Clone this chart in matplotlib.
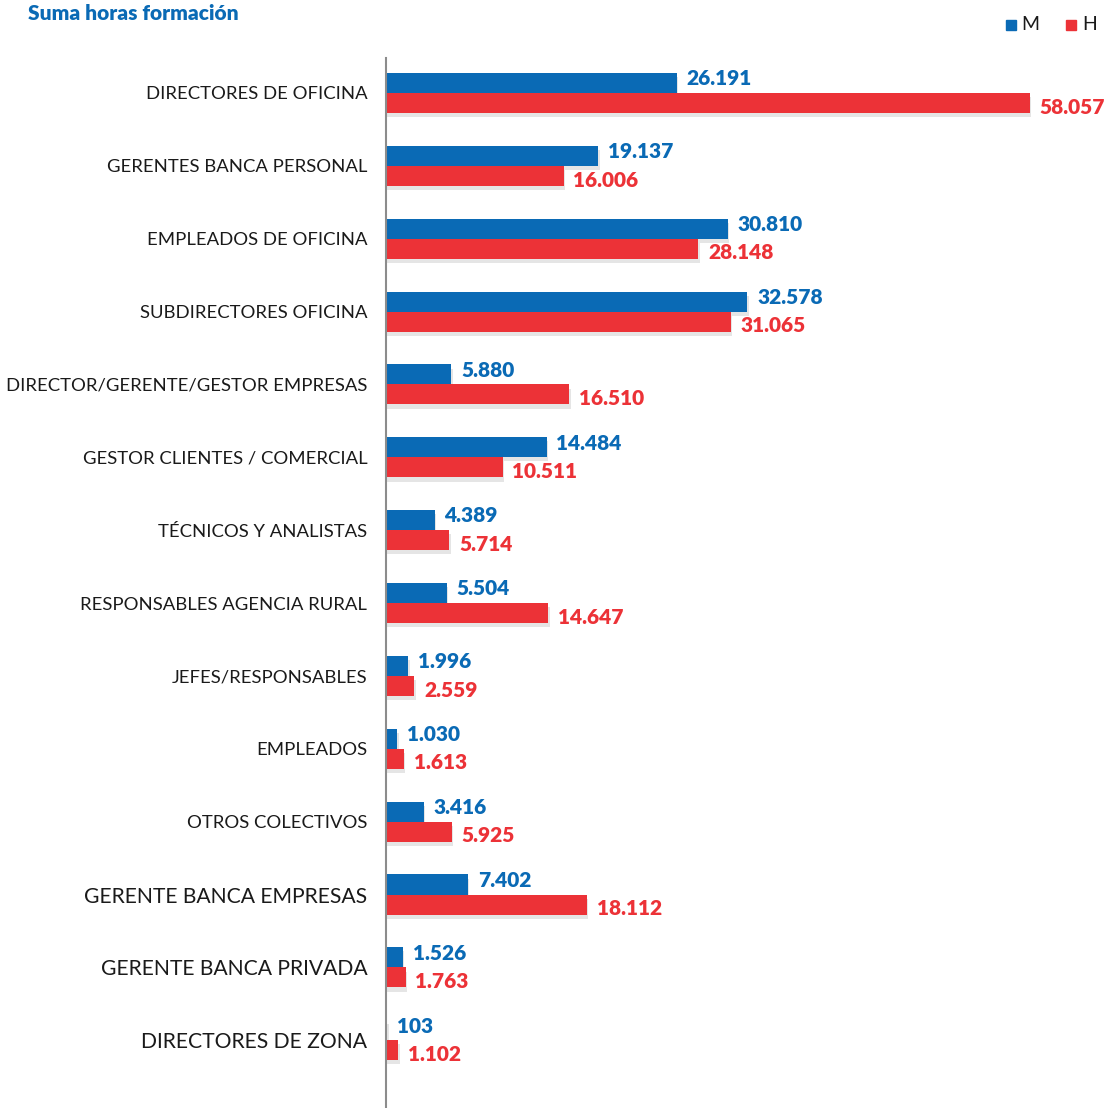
import matplotlib
matplotlib.use("Agg")
import matplotlib.pyplot as plt
import matplotlib.patheffects as pe
import numpy as np

categories = [
    "DIRECTORES DE OFICINA",
    "GERENTES BANCA PERSONAL",
    "EMPLEADOS DE OFICINA",
    "SUBDIRECTORES OFICINA",
    "DIRECTOR/GERENTE/GESTOR EMPRESAS",
    "GESTOR CLIENTES / COMERCIAL",
    "TÉCNICOS Y ANALISTAS",
    "RESPONSABLES AGENCIA RURAL",
    "JEFES/RESPONSABLES",
    "EMPLEADOS",
    "OTROS COLECTIVOS",
    "GERENTE BANCA EMPRESAS",
    "GERENTE BANCA PRIVADA",
    "DIRECTORES DE ZONA",
]
m_values = [26191, 19137, 30810, 32578, 5880, 14484, 4389, 5504, 1996, 1030, 3416, 7402, 1526, 103]
h_values = [58057, 16006, 28148, 31065, 16510, 10511, 5714, 14647, 2559, 1613, 5925, 18112, 1763, 1102]

BLUE = "#0a6ab5"
RED = "#ec3237"


def fmt(v):
    return f"{v:,}".replace(",", ".")


W, H = 1112, 1108
fig = plt.figure(figsize=(W / 100, H / 100), dpi=100)
ax = fig.add_axes([386 / W, 0, 1 - 386 / W, 1 - 58 / H])

y = np.arange(len(categories))
bh = 0.275
shadow = [pe.SimplePatchShadow(offset=(1, -3), shadow_rgbFace="#aaaaaa", alpha=0.3), pe.Normal()]
ax.barh(y - bh / 2, m_values, height=bh, color=BLUE, path_effects=shadow)
ax.barh(y + bh / 2, h_values, height=bh, color=RED, path_effects=shadow)

for i in range(len(categories)):
    ax.annotate(fmt(m_values[i]), (m_values[i], y[i] - bh / 2), xytext=(7, 3),
                textcoords="offset points", va="center", ha="left",
                fontsize=15, family="Lato", fontweight="heavy", color=BLUE)
    ax.annotate(fmt(h_values[i]), (h_values[i], y[i] + bh / 2), xytext=(7, -3),
                textcoords="offset points", va="center", ha="left",
                fontsize=15, family="Lato", fontweight="heavy", color=RED)

ax.set_ylim(13.93, -0.48)
ax.set_xlim(0, 58057 * (W - 386) / 644)
ax.set_yticks(y)
ax.set_yticklabels(categories, fontsize=13.3, family="Lato", color="#1a1a1a")
# the last three labels are set larger in the original
for lab in ax.get_yticklabels()[-3:]:
    lab.set_fontsize(15.2)
ax.tick_params(axis="y", length=0, pad=13.5)
ax.set_xticks([])
for s in ["top", "right", "bottom"]:
    ax.spines[s].set_visible(False)
ax.spines["left"].set_color("#8c8c8c")
ax.spines["left"].set_linewidth(1.5)

fig.text(28 / W, 1 - 13 / H, "Suma horas formación", color=BLUE, fontsize=15,
         family="Lato", fontweight="heavy", va="center", ha="left")

# legend
fig.patches.append(plt.Rectangle((1006 / W, 1 - 30 / H), 10 / W, 10 / H,
                                 transform=fig.transFigure, color=BLUE))
fig.text(1021 / W, 1 - 24 / H, "M", fontsize=14, family="Lato", va="center", color="#1a1a1a")
fig.patches.append(plt.Rectangle((1066 / W, 1 - 30 / H), 10 / W, 10 / H,
                                 transform=fig.transFigure, color=RED))
fig.text(1082 / W, 1 - 24 / H, "H", fontsize=14, family="Lato", va="center", color="#1a1a1a")

fig.savefig("out.png", dpi=100)
